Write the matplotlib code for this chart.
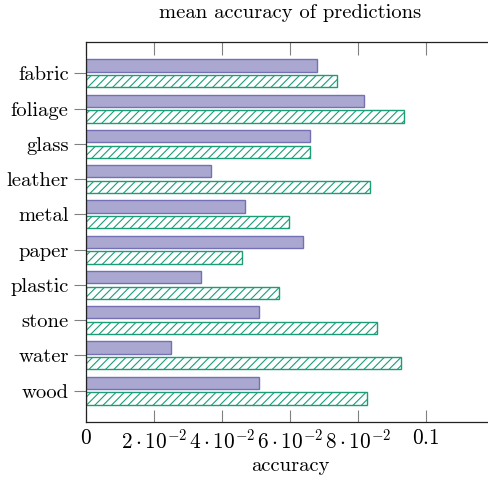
import numpy as np
import matplotlib
matplotlib.use("Agg")
import matplotlib.pyplot as plt

plt.rcParams['font.family'] = ['cmr10', 'DejaVu Serif']
plt.rcParams['mathtext.fontset'] = 'cm'
plt.rcParams['axes.unicode_minus'] = False
plt.rcParams['hatch.linewidth'] = 0.8

# materials and the two series of mean accuracies
materials = ['fabric', 'foliage', 'glass', 'leather', 'metal',
             'paper', 'plastic', 'stone', 'water', 'wood']
series_a = [0.0678, 0.0817, 0.0658, 0.0368, 0.0469,
            0.0637, 0.0338, 0.0508, 0.0249, 0.0508]
series_b = [0.0737, 0.0936, 0.0658, 0.0836, 0.0598,
            0.0458, 0.0568, 0.0857, 0.0926, 0.0827]
xtick_values = [0, 0.02, 0.04, 0.06, 0.08, 0.1]
xtick_labels = [r'$0$', r'$2\cdot10^{-2}$', r'$4\cdot10^{-2}$',
                r'$6\cdot10^{-2}$', r'$8\cdot10^{-2}$', r'$0.1$']

purple = '#7570b3'
green = '#1b9e77'
fs = 14.8

W, H = 488, 478
fig = plt.figure(figsize=(W / 100, H / 100), dpi=100)
ax = fig.add_axes([86 / W, (H - 422) / H, 408 / W, 380 / H])

y = np.arange(len(materials))
h = 0.35
off = 0.222
ax.barh(y - off, series_a, height=h, color='#aaa8d0', edgecolor=purple, linewidth=1)
ax.barh(y + off, series_b, height=h, color='white', edgecolor=green,
        linewidth=1, hatch='////')

ax.set_xlim(0, 0.12)
ax.set_ylim(len(materials) - 1 + 0.89, -0.89)
ax.set_yticks(y)
ax.set_yticklabels(materials, fontsize=fs)
ax.set_xticks(xtick_values)
ax.set_xticklabels(xtick_labels, fontsize=15.3)

ax.tick_params(axis='x', direction='in', length=9, width=0.8, color='#808080',
               top=True, pad=5)
ax.tick_params(axis='y', direction='out', length=9, width=0.8, color='#808080',
               pad=3.5)
for s in ax.spines.values():
    s.set_color('#222222')
    s.set_linewidth(0.9)

ax.set_xlabel('accuracy', fontsize=fs, labelpad=3)
ax.set_title('mean accuracy of predictions', fontsize=fs, pad=17)

fig.savefig('out.png', dpi=100)
